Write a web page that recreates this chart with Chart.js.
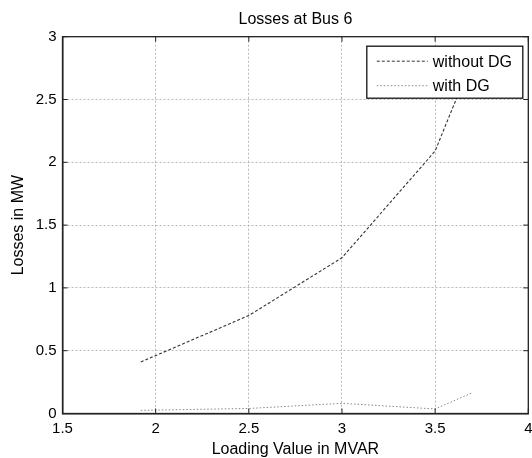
<!DOCTYPE html>
<html>
<head>
<meta charset="utf-8">
<script src="https://cdn.jsdelivr.net/npm/chart.js@4"></script>
<style>
  html, body { margin: 0; padding: 0; background: #fff; }
  #wrap { width: 532px; height: 458px; }
</style>
</head>
<body>
<div id="wrap"><canvas id="lossChart" width="532" height="458"></canvas></div>
<script>
// loading values (MVAR) and losses (MW)
const loading = [1.92, 2.5, 3, 3.5, 3.7];
const withoutDG = [0.41, 0.78, 1.24, 2.09, 2.82];
const withDG = [0.025, 0.04, 0.081, 0.036, 0.166];

const xTicks = [1.5, 2, 2.5, 3, 3.5, 4];
const yTicks = [0, 0.5, 1, 1.5, 2, 2.5, 3];

const seriesNames = ['without DG', 'with DG'];
const FONT = 'Arial, "Liberation Sans", sans-serif';

function points(ys) {
    return loading.map((x, i) => ({ x: x, y: ys[i] }));
}

// box round the plot, inward tick marks, and the legend in the upper right corner
const frameAndLegend = {
    id: 'frameAndLegend',
    afterDraw(chart) {
        const ctx = chart.ctx;
        const a = chart.chartArea;
        const sx = chart.scales.x, sy = chart.scales.y;
        ctx.save();
        ctx.strokeStyle = '#222';
        ctx.lineWidth = 1;
        ctx.beginPath();
        xTicks.forEach(v => {
            const px = sx.getPixelForValue(v);
            ctx.moveTo(px, a.bottom); ctx.lineTo(px, a.bottom - 5);
            ctx.moveTo(px, a.top); ctx.lineTo(px, a.top + 5);
        });
        yTicks.forEach(v => {
            const py = sy.getPixelForValue(v);
            ctx.moveTo(a.left, py); ctx.lineTo(a.left + 5, py);
            ctx.moveTo(a.right, py); ctx.lineTo(a.right - 5, py);
        });
        ctx.stroke();

        ctx.lineWidth = 1.3;
        ctx.strokeRect(a.left, a.top, a.right - a.left, a.bottom - a.top);

        // legend box
        const lx = a.right - 161.5, ly = a.top + 9.5, lw = 156, lh = 52;
        ctx.fillStyle = '#fff';
        ctx.fillRect(lx, ly, lw, lh);
        ctx.strokeStyle = '#111';
        ctx.lineWidth = 1.3;
        ctx.strokeRect(lx, ly, lw, lh);

        ctx.font = '16px ' + FONT;
        ctx.textBaseline = 'middle';
        chart.data.datasets.forEach((ds, i) => {
            const y = ly + 15 + i * 24.5;
            ctx.beginPath();
            ctx.setLineDash(ds.borderDash);
            ctx.strokeStyle = ds.borderColor;
            ctx.lineWidth = 1;
            ctx.moveTo(lx + 10, y);
            ctx.lineTo(lx + 61, y);
            ctx.stroke();
            ctx.setLineDash([]);
            ctx.fillStyle = '#000';
            ctx.fillText(ds.label, lx + 66, y + 1);
        });
        ctx.restore();
    }
};

const gridOpts = { color: '#a8a8a8', lineWidth: 0.8, drawTicks: false };

new Chart(document.getElementById('lossChart').getContext('2d'), {
    type: 'line',
    data: {
        datasets: [{
            label: seriesNames[0],
            data: points(withoutDG),
            borderColor: '#333',
            borderWidth: 1.1,
            borderDash: [3, 2],
            pointRadius: 0,
            tension: 0
        }, {
            label: seriesNames[1],
            data: points(withDG),
            borderColor: '#888',
            borderWidth: 1,
            borderDash: [1.5, 2],
            pointRadius: 0,
            tension: 0
        }]
    },
    options: {
        responsive: false,
        animation: false,
        layout: { padding: { right: 3.7, left: 0, bottom: 0, top: 0 } },
        plugins: {
            legend: { display: false },
            tooltip: { enabled: false },
            title: {
                display: true,
                fullSize: false,
                text: 'Losses at Bus 6',
                color: '#000',
                font: { family: FONT, size: 16, weight: 'normal', lineHeight: 1.2 },
                padding: { top: 9.5, bottom: 8 }
            }
        },
        scales: {
            x: {
                type: 'linear',
                min: 1.5,
                max: 4,
                afterBuildTicks: s => { s.ticks = xTicks.map(v => ({ value: v })); },
                afterFit: s => {
                    s.height = 44.5;
                    s.paddingLeft = 0;
                    s.paddingRight = 0;
                },
                grid: gridOpts,
                border: { color: '#222', width: 1.5, dash: [2, 2] },
                ticks: {
                    color: '#000',
                    padding: 6,
                    maxRotation: 0,
                    font: { family: FONT, size: 15 },
                    callback: v => String(v)
                },
                title: {
                    display: true,
                    text: 'Loading Value in MVAR',
                    color: '#000',
                    font: { family: FONT, size: 16, lineHeight: 1.2 },
                    padding: { top: 0, bottom: -1 }
                }
            },
            y: {
                min: 0,
                max: 3,
                afterBuildTicks: s => { s.ticks = yTicks.map(v => ({ value: v })); },
                afterFit: s => {
                    s.width = 62.5;
                    s.paddingTop = 0;
                    s.paddingBottom = 0;
                },
                grid: gridOpts,
                border: { color: '#222', width: 1.5, dash: [2, 2] },
                ticks: {
                    color: '#000',
                    padding: 6,
                    font: { family: FONT, size: 15 },
                    callback: v => String(v)
                },
                title: {
                    display: true,
                    text: 'Losses in MW',
                    color: '#000',
                    font: { family: FONT, size: 16, lineHeight: 1.2 },
                    padding: { top: 8.5, bottom: 0 }
                }
            }
        }
    },
    plugins: [frameAndLegend]
});
</script>
</body>
</html>
